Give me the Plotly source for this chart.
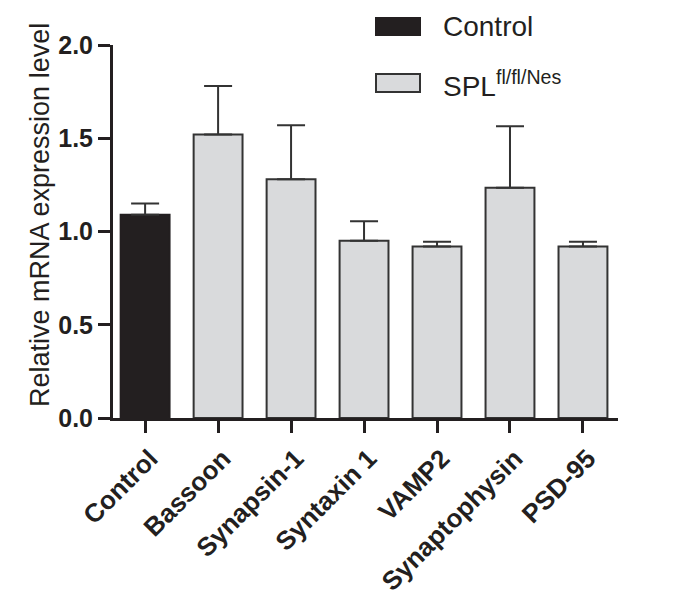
import plotly.graph_objects as go

categories = ["Control", "Bassoon", "Synapsin-1", "Syntaxin 1", "VAMP2", "Synaptophysin", "PSD-95"]
values = [1.09, 1.52, 1.28, 0.95, 0.92, 1.235, 0.92]
errors = [0.06, 0.26, 0.29, 0.105, 0.025, 0.33, 0.025]
groups = ["Control", "SPL", "SPL", "SPL", "SPL", "SPL", "SPL"]
y_ticks = [0.0, 0.5, 1.0, 1.5, 2.0]
y_tick_labels = ["0.0", "0.5", "1.0", "1.5", "2.0"]
legend_labels = ["Control", "SPL<sup>fl/fl/Nes</sup>"]

fill = {"Control": "#231f20", "SPL": "#d9dadc"}
edge = {"Control": "#231f20", "SPL": "#333333"}

FONT = "Liberation Sans, Arial, sans-serif"

# plot area in page pixels (page body has an 8px margin)
OFF = 8
PL, PR, PT, PB = 113, 618, 45, 418
PW, PH = PR - PL, PB - PT


def px(xp):
    return (xp - PL) / PW


def py(yp):
    return (PB - yp) / PH


fig = go.Figure()
fig.add_trace(go.Bar(
    x=categories,
    y=values,
    marker=dict(color=[fill[g] for g in groups],
                line=dict(color=[edge[g] for g in groups], width=2)),
    error_y=dict(type="data", symmetric=False, array=errors,
                 arrayminus=[0] * len(errors),
                 color="#333333", thickness=2, width=14),
    showlegend=False,
    width=0.67,
))

# custom legend (wide swatches like the original)
legend_items = [
    (legend_labels[0], fill["Control"], edge["Control"], 18, 35, 27),
    (legend_labels[1], fill["SPL"], edge["SPL"], 74, 92, 84),
]
for label, fc, lc, ytop, ybot, ty in legend_items:
    fig.add_shape(type="rect", xref="paper", yref="paper",
                  x0=px(376), x1=px(420), y0=py(ybot), y1=py(ytop),
                  fillcolor=fc, line=dict(color=lc, width=2))
    fig.add_annotation(xref="paper", yref="paper", x=px(441), y=py(ty),
                       text=label, showarrow=False, xanchor="left",
                       yanchor="middle",
                       font=dict(family=FONT, size=28, color="#231f20"))

fig.add_annotation(xref="paper", yref="paper", x=px(40),
                   y=py(215), text="Relative mRNA expression level",
                   textangle=-90, showarrow=False, xanchor="center",
                   yanchor="middle",
                   font=dict(family=FONT, size=27, color="#231f20"))

fig.update_layout(
    width=688, height=596,
    margin=dict(l=PL - OFF, r=688 - PR + OFF, t=PT - OFF, b=596 - PB + OFF),
    plot_bgcolor="white", paper_bgcolor="white",
    font=dict(family=FONT, color="#231f20"),
)
fig.update_xaxes(
    range=[-0.44, 6.48], automargin=False,
    showline=True, linewidth=3, linecolor="#231f20",
    ticks="outside", ticklen=12, tickwidth=3, tickcolor="#231f20",
    tickangle=-45, ticklabelshift=5,
    tickfont=dict(family=FONT, size=26, color="#231f20", weight="bold"),
    showgrid=False, zeroline=False,
)
fig.update_yaxes(
    range=[0, 2.0], automargin=False,
    tickvals=y_ticks, ticktext=y_tick_labels,
    showline=True, linewidth=3, linecolor="#231f20",
    ticks="outside", ticklen=12, tickwidth=3, tickcolor="#231f20",
    tickfont=dict(family=FONT, size=25, color="#231f20", weight="bold"),
    showgrid=False, zeroline=False,
)

fig.write_html("out.html")
